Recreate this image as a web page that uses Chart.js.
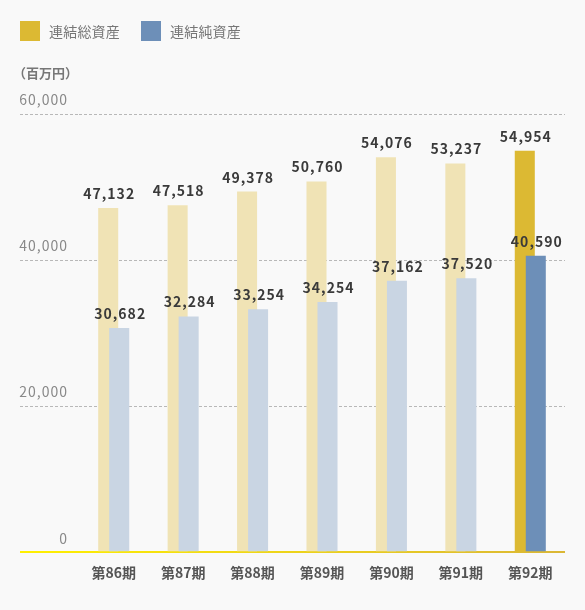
<!DOCTYPE html>
<html lang="ja">
<head>
<meta charset="utf-8">
<title>連結総資産・連結純資産</title>
<script src="https://cdn.jsdelivr.net/npm/chart.js@4.4.1/dist/chart.umd.min.js"></script>
<style>
  body { margin: 0; background: #f9f9f9; font-family: "Noto Sans CJK JP", sans-serif; }
  .wrap { position: relative; width: 585px; height: 610px; }
  .legend { position: absolute; left: 20px; top: 21px; display: flex; font-size: 14px; line-height: 20px; color: #777; letter-spacing: 0.2px; }
  .legend .item { display: flex; align-items: center; margin-right: 21px; }
  .legend i { display: inline-block; width: 20px; height: 20px; margin-right: 9px; }
  .unit { position: absolute; left: 13px; top: 63px; font-size: 13px; font-weight: bold; color: #777; }
  canvas { position: absolute; left: 0; top: 0; }
</style>
</head>
<body>
<div class="wrap">
  <canvas id="myChart"></canvas>
  <div class="legend">
    <span class="item"><i style="background:#dcb933"></i>連結総資産</span>
    <span class="item"><i style="background:#6d8fb8"></i>連結純資産</span>
  </div>
  <div class="unit">（百万円）</div>
</div>
<script>
var labels = ['第86期', '第87期', '第88期', '第89期', '第90期', '第91期', '第92期'];
var totalAssets = [47132, 47518, 49378, 50760, 54076, 53237, 54954];
var netAssets = [30682, 32284, 33254, 34254, 37162, 37520, 40590];
var yTicks = [0, 20000, 40000, 60000];

// 最新期だけ濃い色にする
var latest = labels.length - 1;
var totalColors = labels.map(function(l, i) { return i == latest ? '#dcb933' : '#f0e3b5'; });
var netColors = labels.map(function(l, i) { return i == latest ? '#6d8fb8' : '#c9d5e3'; });

Chart.defaults.font.family = '"Noto Sans CJK JP", sans-serif';

function isZero(c) {
    return c.tick && c.tick.value === 0;
}

function zeroLine(c) {
    var g = c.chart.ctx.createLinearGradient(20, 0, c.chart.width - 20, 0);
    g.addColorStop(0, '#fff000');
    g.addColorStop(1, '#dbb735');
    return g;
}

var barExtras = {
    id: 'barExtras',
    beforeDraw: function(chart) {
        chart.ctx.letterSpacing = '0px';
    },
    // 純資産の棒を総資産の上に重ねる
    beforeDatasetDraw: function(chart, args) {
        if (args.index === 1) chart.getDatasetMeta(0).controller.draw();
        if (args.index === 0) return false;
    },
    afterDatasetsDraw: function(chart) {
        var ctx = chart.ctx;
        ctx.letterSpacing = '1px';
        ctx.save();
        ctx.font = 'bold 14px "Noto Sans CJK JP"';
        ctx.fillStyle = '#3a3a3a';
        ctx.textAlign = 'center';
        ctx.textBaseline = 'alphabetic';
        chart.data.datasets.forEach(function(ds, i) {
            chart.getDatasetMeta(i).data.forEach(function(bar, j) {
                ctx.fillText(ds.data[j].toLocaleString('en-US'), bar.x + 1, bar.y - 9);
            });
        });
        ctx.restore();
    }
};

var chart = new Chart(document.getElementById('myChart'), {
    type: 'bar',
    data: {
        labels: labels,
        datasets: [{
            label: '連結総資産',
            data: totalAssets,
            backgroundColor: totalColors,
            categoryPercentage: 0.317,
            barPercentage: 1.82
        },
        {
            label: '連結純資産',
            data: netAssets,
            backgroundColor: netColors,
            categoryPercentage: 0.317,
            barPercentage: 1.82
        }]
    },
    options: {
        responsive: true,
        maintainAspectRatio: false,
        animation: false,
        layout: { padding: { top: 114, right: 20, bottom: 17, left: 0 } },
        plugins: {
            legend: { display: false },
            tooltip: { enabled: false }
        },
        scales: {
            x: {
                offset: true,
                grid: { display: false, drawTicks: false },
                border: { display: false },
                ticks: {
                    color: '#555',
                    font: { size: 14, weight: 'bold' },
                    padding: 12,
                    maxRotation: 0,
                    autoSkip: false
                }
            },
            y: {
                min: 0,
                max: 60000,
                afterBuildTicks: function(s) {
                    s.ticks = yTicks.map(function(v) { return { value: v }; });
                },
                afterFit: function(s) { s.width = 79; },
                border: {
                    display: false,
                    dash: function(c) { return isZero(c) ? [] : [3, 2]; }
                },
                grid: {
                    color: function(c) { return isZero(c) ? zeroLine(c) : '#b8b8b8'; },
                    lineWidth: function(c) { return isZero(c) ? 2 : 1; },
                    tickLength: 59,
                    tickBorderDash: function(c) { return isZero(c) ? [] : [3, 2]; }
                },
                ticks: {
                    color: '#888',
                    font: { size: 14 },
                    padding: -48,
                    labelOffset: -14,
                    z: 1,
                    callback: function(v) { return v.toLocaleString('en-US'); }
                }
            }
        }
    },
    plugins: [barExtras]
});
</script>
</body>
</html>
